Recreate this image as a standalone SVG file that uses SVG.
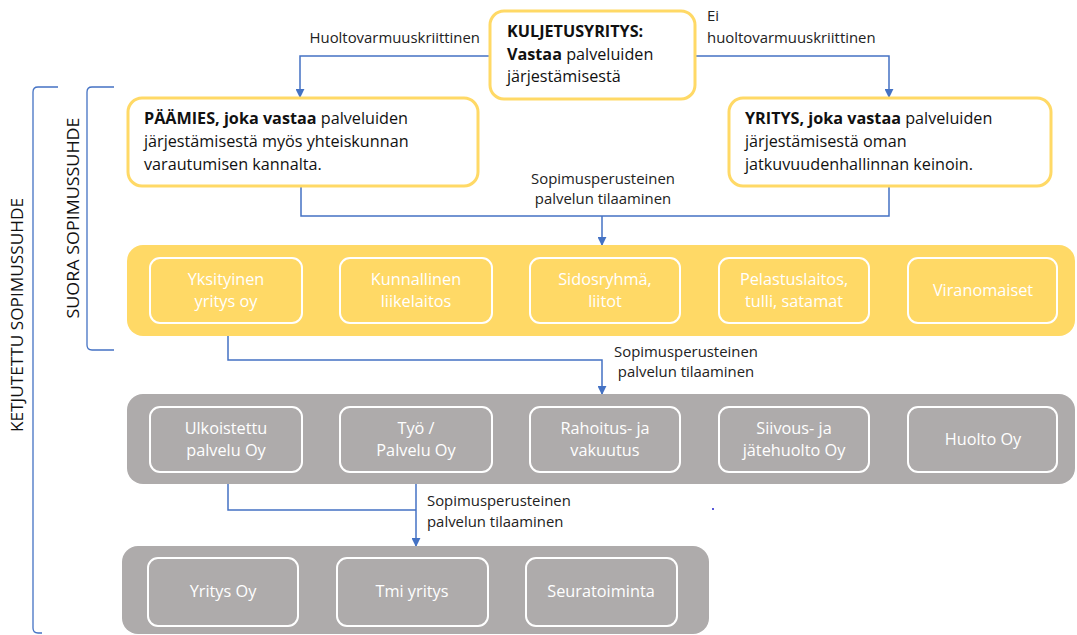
<svg xmlns="http://www.w3.org/2000/svg" width="1077" height="635" viewBox="0 0 1077 635">
  <defs>
    <marker id="arrow" viewBox="0 0 10 10" refX="9" refY="5" markerWidth="9" markerHeight="9" markerUnits="userSpaceOnUse" orient="auto">
      <path d="M0,0 L10,5 L0,10 z" fill="#4472C4"/>
    </marker>
    <style>
      text { font-family: "Open Sans", Lato, "Liberation Sans", sans-serif; }
      .main { fill: #ffffff; stroke: #FFD966; stroke-width: 3; }
      .mt { font-size: 16.2px; fill: #111111; }
      .b { font-weight: bold; }
      .band-y { fill: #FFD966; }
      .band-g { fill: #AEABAB; }
      .cell { fill: none; stroke: #ffffff; stroke-width: 2; }
      .ct { font-size: 16.3px; fill: #ffffff; text-anchor: middle; }
      .conn { fill: none; stroke: #4472C4; stroke-width: 1.5; }
      .lbl { font-size: 14.9px; fill: #222222; }
      .brace { fill: none; stroke: #4472C4; stroke-width: 1.3; }
      .side { font-size: 15.5px; fill: #111111; text-anchor: middle; }
    </style>
  </defs>

  <rect width="1077" height="635" fill="#ffffff"/>

  <!-- side brackets -->
  <g id="ketjutettu">
    <path class="brace" d="M58,87 H38 Q33,87 33,92 V628 Q33,633 38,633 H42"/>
    <text class="side" transform="translate(23,315) rotate(-90)" textLength="234" lengthAdjust="spacingAndGlyphs">KETJUTETTU SOPIMUSSUHDE</text>
  </g>
  <g id="suora">
    <path class="brace" d="M114,87 H92 Q87,87 87,92 V345 Q87,350 92,350 H114"/>
    <text class="side" transform="translate(79,218) rotate(-90)" textLength="201" lengthAdjust="spacingAndGlyphs">SUORA SOPIMUSSUHDE</text>
  </g>

  <!-- connectors -->
  <g id="connectors">
    <path class="conn" d="M490,56 H300 V97" marker-end="url(#arrow)"/>
    <path class="conn" d="M695,56 H889 V97" marker-end="url(#arrow)"/>
    <path class="conn" d="M301,187 V216 H889 V187"/>
    <path class="conn" d="M602,216 V245" marker-end="url(#arrow)"/>
    <path class="conn" d="M228,323 V360 H602 V394" marker-end="url(#arrow)"/>
    <path class="conn" d="M228,471 V510 H416"/>
    <path class="conn" d="M416,471 V546" marker-end="url(#arrow)"/>
    <text class="lbl" x="480" y="43" text-anchor="end">Huoltovarmuuskriittinen</text>
    <text class="lbl" x="707" y="21">Ei</text>
    <text class="lbl" x="707" y="43">huoltovarmuuskriittinen</text>
    <text class="lbl" x="603" y="184" text-anchor="middle">Sopimusperusteinen</text>
    <text class="lbl" x="603" y="204" text-anchor="middle">palvelun tilaaminen</text>
    <text class="lbl" x="686" y="357" text-anchor="middle">Sopimusperusteinen</text>
    <text class="lbl" x="686" y="377" text-anchor="middle">palvelun tilaaminen</text>
    <text class="lbl" x="427" y="506">Sopimusperusteinen</text>
    <text class="lbl" x="427" y="527">palvelun tilaaminen</text>
    <circle cx="713" cy="509" r="1" fill="#2222cc"/>
  </g>

  <!-- top node -->
  <g id="kuljetusyritys">
    <rect class="main" x="490" y="11" width="205" height="88" rx="14"/>
    <text class="mt" x="507" y="37"><tspan class="b">KULJETUSYRITYS:</tspan></text>
    <text class="mt" x="507" y="60"><tspan class="b">Vastaa</tspan> palveluiden</text>
    <text class="mt" x="507" y="82">järjestämisestä</text>
  </g>

  <g id="paamies">
    <rect class="main" x="128" y="98" width="350" height="88" rx="14"/>
    <text class="mt" x="144" y="124"><tspan class="b">PÄÄMIES, joka vastaa</tspan> palveluiden</text>
    <text class="mt" x="144" y="147">järjestämisestä myös yhteiskunnan</text>
    <text class="mt" x="144" y="170">varautumisen kannalta.</text>
  </g>

  <g id="yritys">
    <rect class="main" x="729" y="98" width="322" height="88" rx="14"/>
    <text class="mt" x="745" y="124"><tspan class="b">YRITYS, joka vastaa</tspan> palveluiden</text>
    <text class="mt" x="745" y="147">järjestämisestä oman</text>
    <text class="mt" x="745" y="170">jatkuvuudenhallinnan keinoin.</text>
  </g>

  <!-- first tier (yellow) -->
  <g id="tier1">
    <rect class="band-y" x="127" y="245" width="948" height="91" rx="16"/>
    <g id="yksityinen">
      <rect class="cell" x="150" y="258" width="152" height="65" rx="10"/>
      <text class="ct" x="226" y="285">Yksityinen</text>
      <text class="ct" x="226" y="307">yritys oy</text>
    </g>
    <g id="kunnallinen">
      <rect class="cell" x="340" y="258" width="152" height="65" rx="10"/>
      <text class="ct" x="416" y="285">Kunnallinen</text>
      <text class="ct" x="416" y="307">liikelaitos</text>
    </g>
    <g id="sidosryhma">
      <rect class="cell" x="530" y="258" width="150" height="65" rx="10"/>
      <text class="ct" x="605" y="285">Sidosryhmä,</text>
      <text class="ct" x="605" y="307">liitot</text>
    </g>
    <g id="pelastuslaitos">
      <rect class="cell" x="719" y="258" width="150" height="65" rx="10"/>
      <text class="ct" x="794" y="285">Pelastuslaitos,</text>
      <text class="ct" x="794" y="307">tulli, satamat</text>
    </g>
    <g id="viranomaiset">
      <rect class="cell" x="908" y="258" width="149" height="65" rx="10"/>
      <text class="ct" x="983" y="296">Viranomaiset</text>
    </g>
  </g>

  <!-- second tier (grey) -->
  <g id="tier2">
    <rect class="band-g" x="127" y="394" width="948" height="90" rx="16"/>
    <g id="ulkoistettu">
      <rect class="cell" x="150" y="407" width="152" height="65" rx="10"/>
      <text class="ct" x="226" y="434">Ulkoistettu</text>
      <text class="ct" x="226" y="456">palvelu Oy</text>
    </g>
    <g id="tyo">
      <rect class="cell" x="340" y="407" width="152" height="65" rx="10"/>
      <text class="ct" x="416" y="434">Työ /</text>
      <text class="ct" x="416" y="456">Palvelu Oy</text>
    </g>
    <g id="rahoitus">
      <rect class="cell" x="530" y="407" width="150" height="65" rx="10"/>
      <text class="ct" x="605" y="434">Rahoitus- ja</text>
      <text class="ct" x="605" y="456">vakuutus</text>
    </g>
    <g id="siivous">
      <rect class="cell" x="719" y="407" width="150" height="65" rx="10"/>
      <text class="ct" x="794" y="434">Siivous- ja</text>
      <text class="ct" x="794" y="456">jätehuolto Oy</text>
    </g>
    <g id="huolto">
      <rect class="cell" x="908" y="407" width="149" height="65" rx="10"/>
      <text class="ct" x="983" y="445">Huolto Oy</text>
    </g>
  </g>

  <!-- third tier (grey) -->
  <g id="tier3">
    <rect class="band-g" x="122" y="546" width="587" height="88" rx="16"/>
    <g id="yritys-oy">
      <rect class="cell" x="148" y="558" width="150" height="68" rx="10"/>
      <text class="ct" x="223" y="597">Yritys Oy</text>
    </g>
    <g id="tmi">
      <rect class="cell" x="337" y="558" width="151" height="68" rx="10"/>
      <text class="ct" x="412" y="597">Tmi yritys</text>
    </g>
    <g id="seuratoiminta">
      <rect class="cell" x="526" y="558" width="151" height="68" rx="10"/>
      <text class="ct" x="601" y="597">Seuratoiminta</text>
    </g>
  </g>
</svg>
